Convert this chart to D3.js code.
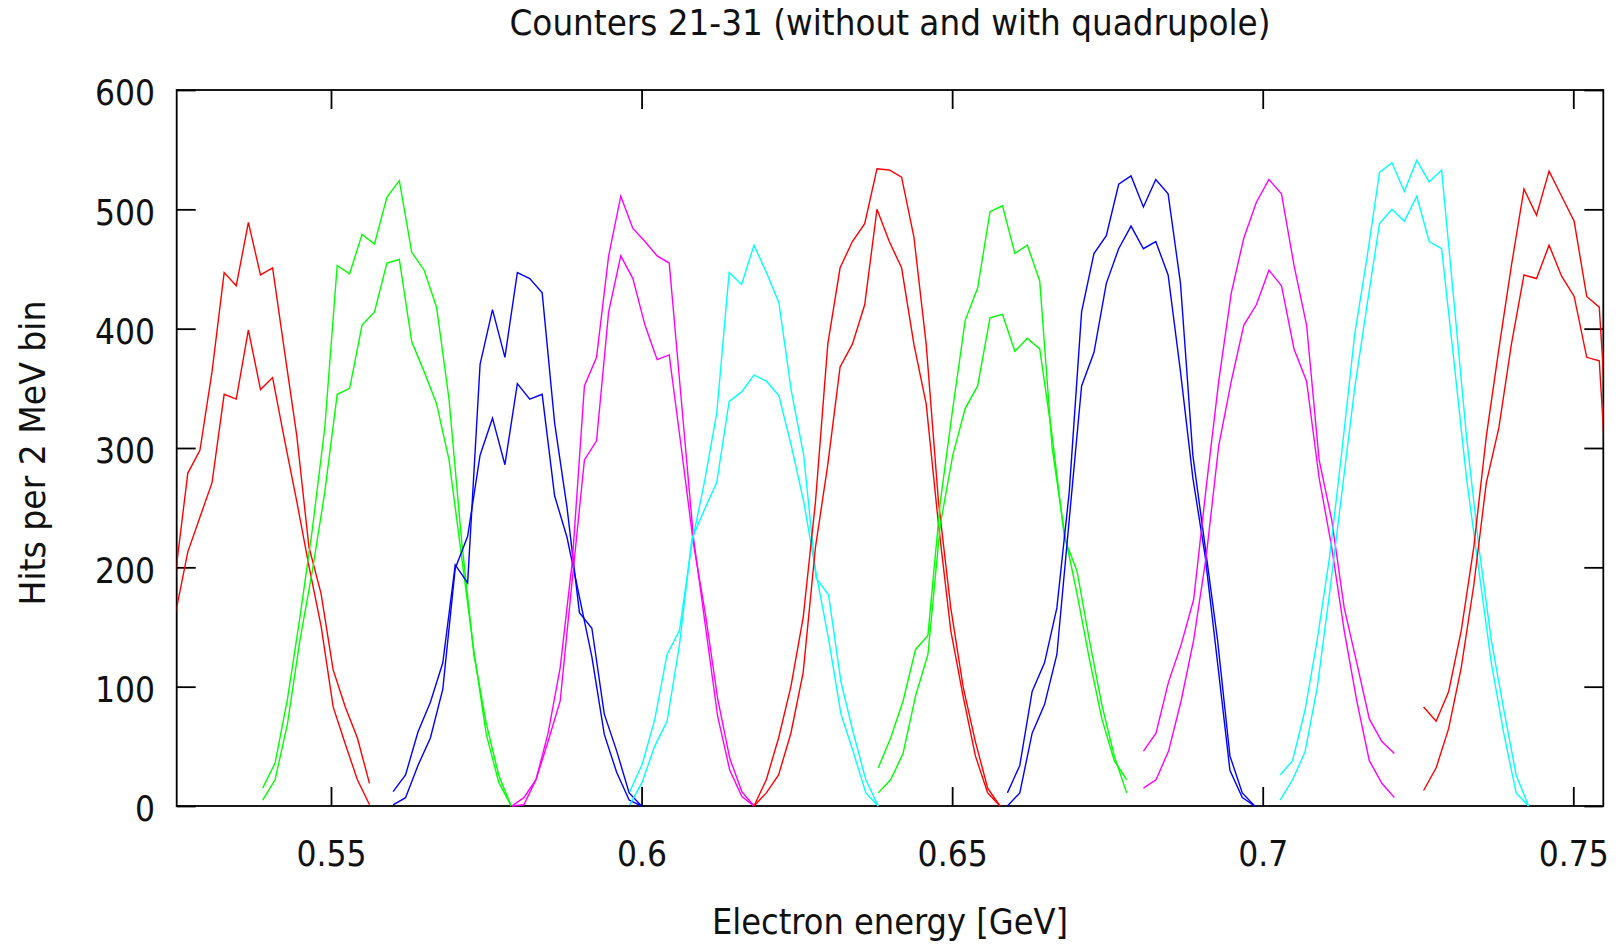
<!DOCTYPE html>
<html>
<head>
<meta charset="utf-8">
<script src="https://cdn.jsdelivr.net/npm/d3@7"></script>
<style>
  html, body { margin: 0; padding: 0; background: #ffffff; }
  svg { display: block; }
  text { font-family: "DejaVu Sans Condensed", "DejaVu Sans", sans-serif; font-stretch: condensed; fill: #111; }
</style>
</head>
<body>
<svg id="chart" width="1622" height="945"></svg>
<script>
// ---------- data ----------
const titleText = "Counters 21-31 (without and with quadrupole)";
const xLabel = "Electron energy [GeV]";
const yLabel = "Hits per 2 MeV bin";
const xTicks = [0.55, 0.6, 0.65, 0.7, 0.75];
const yTicks = [0, 100, 200, 300, 400, 500, 600];
const counters = [21, 22, 23, 24, 25, 26, 27, 28, 29, 30, 31];
const palette = ["#ff0000", "#00ff00", "#0000ff", "#ff00ff", "#00ffff"];
// centre of first bin and bin width [GeV] for each counter
const firstBin = [0.5250, 0.5390, 0.5600, 0.5791, 0.5981, 0.6181, 0.6381, 0.6589, 0.6808, 0.7028, 0.7259];
const binWidth = [0.00195, 0.0020, 0.0020, 0.00195, 0.0020, 0.00198, 0.0020, 0.00199, 0.00202, 0.0020, 0.00202];

// hits per bin, "with quadrupole" (higher peaks) and "without" (lower peaks)
const with21 = [196, 279, 298, 364, 447, 436, 489, 445, 451, 380, 310, 217, 178, 114, 83, 57, 19];
const wout21 = [162, 213, 242, 271, 345, 341, 399, 349, 359, 306, 255, 201, 151, 83, 52, 22, 1];
const with22 = [15, 36, 90, 158, 232, 317, 453, 446, 479, 471, 510, 524, 464, 449, 418, 341, 224, 127, 69, 26, 0];
const wout22 = [5, 22, 69, 139, 197, 263, 345, 350, 403, 414, 455, 458, 389, 364, 337, 290, 210, 130, 60, 20, 0];
const with23 = [12, 26, 62, 87, 120, 202, 187, 370, 416, 376, 447, 442, 430, 321, 250, 162, 149, 77, 46, 11, 0];
const wout23 = [1, 7, 34, 57, 98, 199, 226, 294, 325, 286, 354, 341, 345, 260, 225, 175, 125, 60, 28, 5, 0];
const with24 = [0, 7, 22, 61, 116, 205, 352, 376, 461, 511, 484, 473, 461, 455, 340, 225, 150, 75, 30, 8, 0];
const wout24 = [0, 1, 22, 54, 88, 190, 290, 306, 414, 461, 442, 403, 374, 378, 300, 220, 160, 90, 40, 12, 0];
const with25 = [12, 35, 72, 127, 147, 220, 271, 329, 447, 437, 470, 447, 422, 348, 294, 191, 177, 104, 61, 22, 0];
const wout25 = [1, 20, 50, 71, 135, 224, 248, 271, 339, 347, 361, 356, 344, 302, 255, 195, 140, 77, 45, 11, 0];
const with26 = [0, 22, 57, 100, 158, 255, 387, 451, 473, 488, 534, 533, 527, 477, 387, 255, 166, 100, 54, 15, 0];
const wout26 = [0, 11, 26, 61, 112, 217, 286, 368, 387, 420, 500, 473, 451, 387, 337, 236, 147, 92, 42, 11, 0];
const with27 = [32, 57, 88, 131, 143, 255, 333, 407, 434, 498, 503, 463, 470, 440, 300, 228, 178, 123, 73, 38, 22];
const wout27 = [11, 22, 44, 92, 127, 236, 294, 333, 352, 409, 412, 381, 392, 383, 310, 224, 197, 139, 85, 42, 11];
const with28 = [11, 34, 96, 120, 166, 263, 414, 463, 478, 521, 528, 502, 525, 513, 438, 294, 217, 139, 42, 11, 0];
const wout28 = [0, 11, 61, 85, 127, 240, 352, 380, 438, 467, 486, 467, 473, 445, 364, 275, 209, 120, 30, 7, 0];
const with29 = [46, 61, 104, 135, 173, 267, 356, 430, 476, 506, 525, 513, 453, 403, 290, 240, 166, 120, 73, 54, 44];
const wout29 = [15, 22, 46, 88, 139, 209, 302, 356, 403, 420, 449, 436, 383, 356, 275, 217, 147, 88, 38, 19, 7];
const with30 = [26, 38, 80, 140, 210, 300, 395, 460, 531, 539, 515, 541, 523, 533, 422, 310, 217, 139, 81, 26, 0];
const wout30 = [5, 22, 45, 100, 180, 265, 350, 420, 488, 500, 490, 511, 473, 467, 372, 275, 197, 120, 61, 11, 0];
const with31 = [83, 71, 96, 147, 217, 310, 383, 453, 517, 495, 532, 511, 490, 427, 418, 250];
const wout31 = [13, 32, 65, 116, 185, 271, 317, 387, 445, 442, 470, 444, 427, 376, 373, 200];

const hitsWithout = [wout21, wout22, wout23, wout24, wout25, wout26, wout27, wout28, wout29, wout30, wout31];
const hitsWith = [with21, with22, with23, with24, with25, with26, with27, with28, with29, with30, with31];

// ---------- layout ----------
const plot = { left: 176.7, right: 1603.3, top: 90, bottom: 806 };
const FS = 35;

const svg = d3.select("#chart");
const x = d3.scaleLinear().domain([0.52516, 0.75483]).range([plot.left, plot.right]);
const y = d3.scaleLinear().domain([0, 600]).range([plot.bottom, plot.top]);

// ticks (mirrored, inward)
const tickLen = 19;
const axB = svg.append("g").attr("transform", `translate(0,${plot.bottom})`)
  .call(d3.axisBottom(x).tickValues(xTicks).tickSize(-tickLen).tickPadding(35).tickFormat(d3.format("~g")));
const axT = svg.append("g").attr("transform", `translate(0,${plot.top})`)
  .call(d3.axisTop(x).tickValues(xTicks).tickSize(-tickLen).tickFormat(""));
const axL = svg.append("g").attr("transform", `translate(${plot.left},0)`)
  .call(d3.axisLeft(y).tickValues(yTicks).tickSize(-tickLen).tickPadding(21.7));
const axR = svg.append("g").attr("transform", `translate(${plot.right},0)`)
  .call(d3.axisRight(y).tickValues(yTicks).tickSize(-tickLen).tickFormat(""));

[axB, axT, axL, axR].forEach(g => {
  g.select(".domain").remove();
  g.selectAll(".tick line").attr("stroke", "#000").attr("stroke-width", 1.8);
  g.selectAll(".tick text").attr("font-size", FS).attr("font-family", null).attr("fill", "#111");
});
axL.selectAll(".tick text").attr("dy", "0.42em");
axB.selectAll(".tick text").attr("dy", "0.71em");

// border
svg.append("rect")
  .attr("x", plot.left).attr("y", plot.top)
  .attr("width", plot.right - plot.left).attr("height", plot.bottom - plot.top)
  .attr("fill", "none").attr("stroke", "#000").attr("stroke-width", 1.8);

// clip
svg.append("clipPath").attr("id", "clip").append("rect")
  .attr("x", plot.left).attr("y", plot.top - 5)
  .attr("width", plot.right - plot.left).attr("height", plot.bottom - plot.top + 10);

const line = d3.line().x(d => x(d[0])).y(d => y(d[1]));
const gLines = svg.append("g").attr("clip-path", "url(#clip)");

counters.forEach((c, i) => {
  const color = palette[i % palette.length];
  [hitsWithout[i], hitsWith[i]].forEach(vals => {
    const pts = vals.map((v, k) => [firstBin[i] + k * binWidth[i], v]);
    gLines.append("path")
      .datum(pts)
      .attr("d", line)
      .attr("fill", "none")
      .attr("stroke", color)
      .attr("stroke-width", 1.4)
      .attr("stroke-linejoin", "miter");
  });
});

// titles
svg.append("text")
  .attr("x", (plot.left + plot.right) / 2).attr("y", 35)
  .attr("text-anchor", "middle").attr("font-size", FS)
  .attr("textLength", 761).attr("lengthAdjust", "spacingAndGlyphs")
  .text(titleText);

svg.append("text")
  .attr("x", (plot.left + plot.right) / 2).attr("y", 934)
  .attr("text-anchor", "middle").attr("font-size", FS)
  .attr("textLength", 356).attr("lengthAdjust", "spacingAndGlyphs")
  .text(xLabel);

svg.append("text")
  .attr("transform", `translate(45,${(plot.top + plot.bottom) / 2 + 5}) rotate(-90)`)
  .attr("text-anchor", "middle").attr("font-size", FS)
  .attr("textLength", 305).attr("lengthAdjust", "spacingAndGlyphs")
  .text(yLabel);
</script>
</body>
</html>
